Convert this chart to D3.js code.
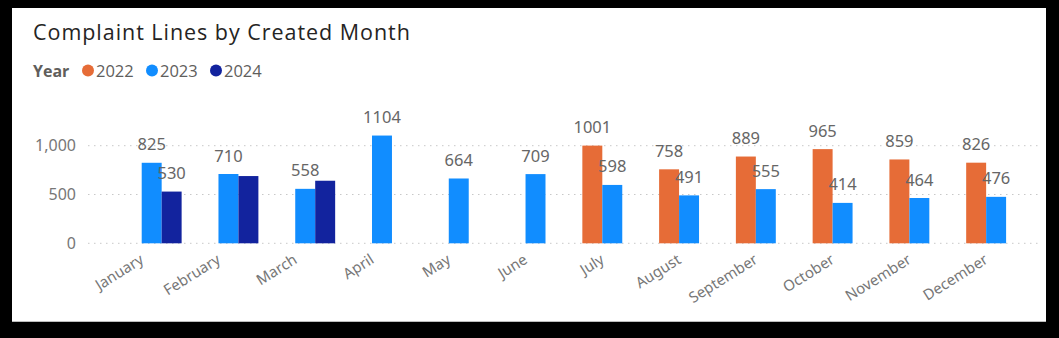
<!DOCTYPE html>
<html>
<head>
<meta charset="utf-8">
<script src="https://cdn.jsdelivr.net/npm/d3@7"></script>
<style>
  html, body { margin: 0; padding: 0; background: #000; }
  svg { display: block; }
</style>
</head>
<body>
<svg id="chart" width="1059" height="338"></svg>
<script>
// Complaint lines per created month, split by year
const months = ["January","February","March","April","May","June","July","August","September","October","November","December"];
const years = ["2022","2023","2024"];
const values2022 = [null,null,null,null,null,null,1001,758,889,965,859,826];
const values2023 = [825,710,558,1104,664,709,598,491,555,414,464,476];
const values2024 = [530,689,641,null,null,null,null,null,null,null,null,null];
const yTicks = [0,500,1000];
// data labels that the report leaves out (they would collide)
const hiddenLabels = [["February","2024"],["March","2024"]];

const colors = { "2022": "#E66C37", "2023": "#118DFF", "2024": "#12239E" };
const seriesByYear = { "2022": values2022, "2023": values2023, "2024": values2024 };

const rows = [];
months.forEach((m, i) => {
  years.forEach(yr => {
    const v = seriesByYear[yr][i];
    if (v != null) rows.push({ month: m, year: yr, value: v });
  });
});

const svg = d3.select("#chart");
const uiFont = "'Segoe UI', 'Noto Sans', sans-serif";
const headFont = "'DIN', 'Open Sans', sans-serif";

// card
svg.append("rect").attr("x", 12).attr("y", 8).attr("width", 1034).attr("height", 314)
  .attr("fill", "#fff");
svg.append("line").attr("x1", 12).attr("x2", 1046).attr("y1", 321.5).attr("y2", 321.5)
  .attr("stroke", "#bdbdbd").attr("stroke-width", 1);

// title, spread to the card's title width
const title = svg.append("text").attr("x", 33).attr("y", 40)
  .attr("font-family", headFont).attr("font-size", 21.5).attr("font-weight", 500)
  .attr("fill", "#252423").text("Complaint Lines by Created Month");
{
  const txt = title.text();
  const w = title.node().getComputedTextLength();
  title.attr("letter-spacing", ((377 - w) / (txt.length - 1)).toFixed(2));
}

// legend
const legend = svg.append("g").attr("font-family", headFont);
legend.append("text").attr("x", 33).attr("y", 76.5).attr("font-size", 16).attr("font-weight", "bold")
  .attr("fill", "#605E5C").text("Year");
const legendX = d3.scalePoint().domain(years).range([88, 216]);
years.forEach(yr => {
  legend.append("circle").attr("cx", legendX(yr)).attr("cy", 70.5).attr("r", 6).attr("fill", colors[yr]);
  legend.append("text").attr("x", legendX(yr) + 8).attr("y", 76.5).attr("font-size", 16.5)
    .attr("fill", "#605E5C").text(yr);
});

// scales
const x = d3.scaleBand().domain(months).range([113.3, 1034.5]).paddingInner(0.22).paddingOuter(0.11);
const xSub = d3.scaleBand().domain(years).range([0, x.bandwidth()]);
const y = d3.scaleLinear().domain([0, 1000]).range([243.3, 145.7]);

// gridlines + y labels
const yAxis = d3.axisLeft(y).tickValues(yTicks).tickFormat(d3.format(",")).tickSize(0).tickPadding(12);
const gy = svg.append("g").attr("transform", "translate(88,0)").call(yAxis);
gy.select(".domain").remove();
gy.selectAll("text").attr("font-family", uiFont)
  .attr("font-size", 16).attr("fill", "#777");
svg.append("g").selectAll("line").data(yTicks).join("line")
  .attr("x1", 88).attr("x2", 1042).attr("y1", d => y(d)).attr("y2", d => y(d))
  .attr("stroke", "#c8c8c8").attr("stroke-width", 1).attr("stroke-dasharray", "1.5,4.5");

// bars
svg.append("g").selectAll("rect").data(rows).join("rect")
  .attr("x", d => x(d.month) + xSub(d.year))
  .attr("width", xSub.bandwidth())
  .attr("y", d => y(d.value))
  .attr("height", d => y(0) - y(d.value))
  .attr("fill", d => colors[d.year]);

// data labels
const isHidden = d => hiddenLabels.some(([m, yr]) => m === d.month && yr === d.year);
svg.append("g").selectAll("text").data(rows.filter(d => !isHidden(d))).join("text")
  .attr("x", d => x(d.month) + xSub(d.year) + xSub.bandwidth() / 2)
  .attr("y", d => y(d.value) - 12.5)
  .attr("text-anchor", "middle")
  .attr("font-family", uiFont).attr("font-size", 16.5)
  .attr("fill", "#666")
  .text(d => d3.format("d")(d.value));

// x axis labels, rotated
const xAxis = d3.axisBottom(x).tickSize(0).tickPadding(0);
const gx = svg.append("g").attr("transform", "translate(0,243.3)").call(xAxis);
gx.select(".domain").remove();
gx.selectAll("text")
  .attr("font-family", uiFont).attr("font-size", 15)
  .attr("fill", "#777")
  .attr("text-anchor", "end")
  .attr("dy", null)
  .attr("transform", "translate(-7,19) rotate(-32)");
</script>
</body>
</html>
